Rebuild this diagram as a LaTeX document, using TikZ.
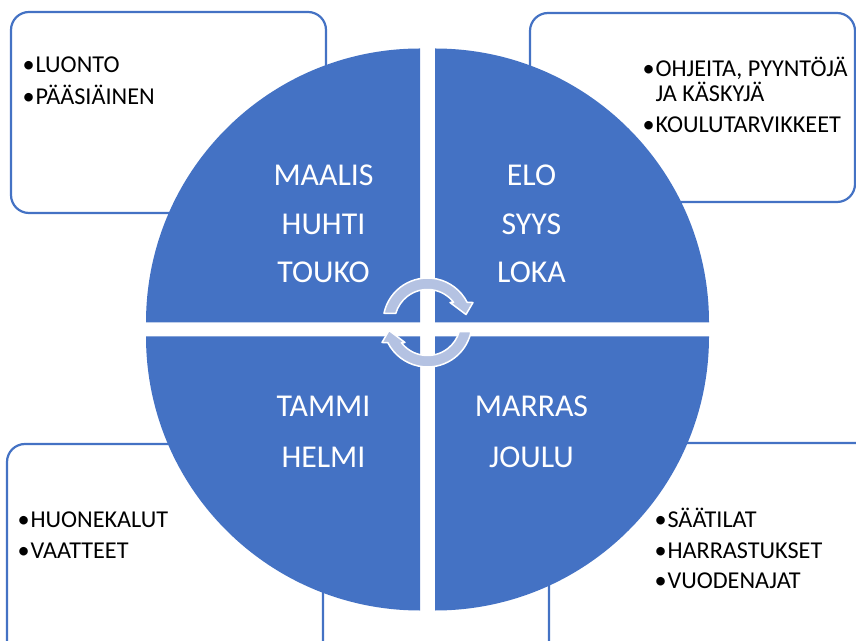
\documentclass[tikz,border=0pt]{standalone}
\usepackage{fontspec}
\setmainfont{Carlito}
\usetikzlibrary{calc}
\definecolor{qblue}{HTML}{4472C4}
\definecolor{arrfill}{HTML}{B4C2E2}
\newcommand{\bul}{•\kern0.8pt}
\begin{document}
\begin{tikzpicture}[x=1pt,y=1pt,
  quad/.style={fill=qblue},
  infobox/.style={draw=qblue, line width=2.2pt, fill=white, rounded corners=18pt},
  qtext/.style={text=white, font=\fontsize{31.8}{36}\selectfont, anchor=base, inner sep=0pt},
  btext/.style={text=black, font=\fontsize{24.2}{28}\selectfont, anchor=base west, inner sep=0pt},
  cyc/.style={fill=arrfill, draw=white, line width=1.5pt, line join=round}]
\useasboundingbox (0,0) rectangle (856,640);
\clip (0,0) rectangle (856,640);
% corner boxes
\draw[infobox] (11,427) rectangle (326,628);
\draw[infobox] (530,438) rectangle (855,627);
\draw[infobox] (7,-30) rectangle (323,196);
\draw[infobox] (549,-30) rectangle (880,197);
% quadrants
\fill[quad] (420,317.5) -- ++(-274,0) arc[start angle=180,end angle=90,radius=274] -- cycle;
\fill[quad] (435,317.5) -- ++(274,0) arc[start angle=0,end angle=90,radius=274] -- cycle;
\fill[quad] (420,303.5) -- ++(-274,0) arc[start angle=180,end angle=270,radius=274] -- cycle;
\fill[quad] (435,303.5) -- ++(274,0) arc[start angle=0,end angle=-90,radius=274] -- cycle;
% cycle arrows
\coordinate (Ct) at (427.5,317.5);
\newcommand{\cycarrow}{%
  \draw[cyc] ($(Ct)+(168:44.5)$) arc[start angle=168,end angle=27,radius=44.5]
    -- ($(Ct)+(23.7:49.7)$) -- ($(Ct)+(11.7:39.3)$) -- ($(Ct)+(41.6:30.1)$)
    -- ($(Ct)+(37.7:33)$) arc[start angle=37.7,end angle=164,radius=33] -- cycle;}
\cycarrow
\begin{scope}[rotate around={180:(427.5,310.5)}]
\cycarrow
\end{scope}
% quadrant texts
\node[qtext] (maalis) at (323.5,454) {MAALIS};
\node[qtext] (huhti) at (323.5,405) {HUHTI};
\node[qtext] (touko) at (323.5,357.5) {TOUKO};
\node[qtext] (elo) at (531.5,454) {ELO};
\node[qtext] (syys) at (531.5,405) {SYYS};
\node[qtext] (loka) at (531.5,357.5) {LOKA};
\node[qtext] (tammi) at (323.5,223.3) {TAMMI};
\node[qtext] (helmi) at (323.5,172.7) {HELMI};
\node[qtext] (marras) at (531.5,223.3) {MARRAS};
\node[qtext] (joulu) at (531.5,172.7) {JOULU};
% box texts
\node[btext] (luonto) at (22.5,567) {\bul LUONTO};
\node[btext] (paasiainen) at (22.5,535.5) {\bul PÄÄSIÄINEN};
\node[btext] (ohjeita) at (642.5,563) {\bul OHJEITA, PYYNTÖJÄ};
\node[btext] (kaskyja) at (642.5,538.3) {\phantom{\bul}JA KÄSKYJÄ};
\node[btext] (koulu) at (642.5,507.3) {\bul KOULUTARVIKKEET};
\node[btext] (huone) at (17.5,113) {\bul HUONEKALUT};
\node[btext] (vaatteet) at (17.5,82) {\bul VAATTEET};
\node[btext] (saatilat) at (654.5,113) {\bul SÄÄTILAT};
\node[btext] (harrastukset) at (654.5,82) {\bul HARRASTUKSET};
\node[btext] (vuodenajat) at (654.5,52) {\bul VUODENAJAT};
\end{tikzpicture}
\end{document}
